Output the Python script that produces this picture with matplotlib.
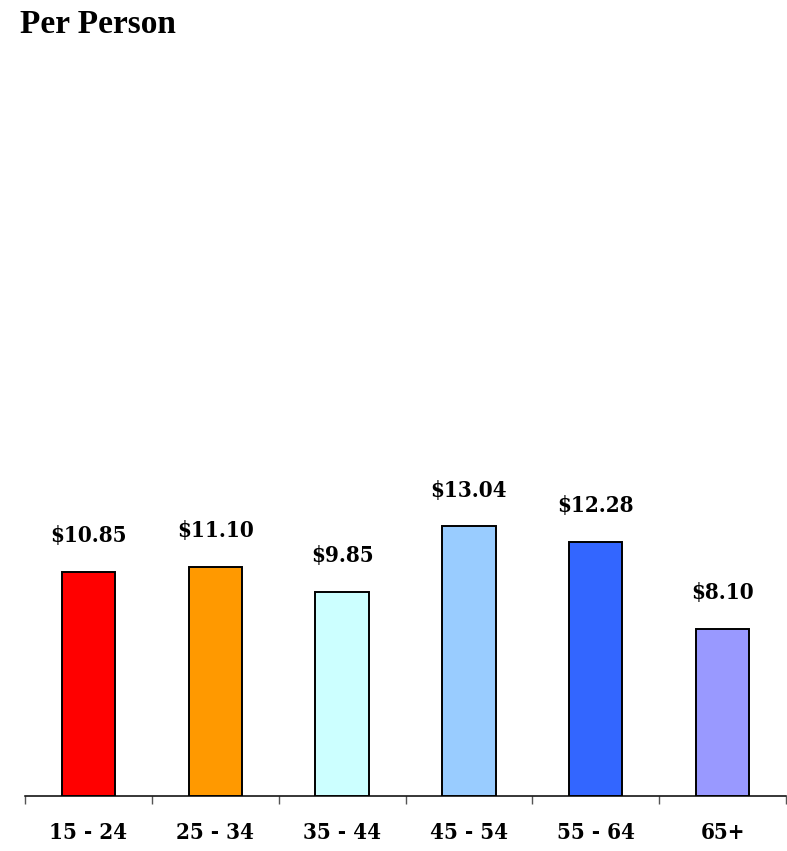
import matplotlib
matplotlib.use("Agg")
import matplotlib.pyplot as plt
from matplotlib import font_manager

categories = ["15 - 24", "25 - 34", "35 - 44", "45 - 54", "55 - 64", "65+"]
values = [10.85, 11.10, 9.85, 13.04, 12.28, 8.10]
colors = ["#FF0000", "#FF9900", "#CCFFFF", "#99CCFF", "#3366FF", "#9999FF"]

W, H, DPI = 787, 851, 100

# prefer a condensed bold serif for the numeric labels
cond = [f for f in font_manager.fontManager.ttflist
        if f.name.startswith("DejaVu Serif") and "ondensed" in (f.fname + f.name)]
if cond:
    label_font = dict(family="DejaVu Serif", stretch="condensed", weight="bold", size=16)
else:
    label_font = dict(family="Liberation Serif", weight="bold", size=16)

fig = plt.figure(figsize=(W / DPI, H / DPI), dpi=DPI)
ax = fig.add_axes([25 / W, (H - 796) / H, (786 - 25) / W, (796 - 60) / H])

x = list(range(len(categories)))
ax.bar(x, values, width=0.42, color=colors, edgecolor="black", linewidth=1.4, zorder=3)

for xi, v in zip(x, values):
    ax.annotate(f"${v:.2f}", (xi, v), xytext=(0, 21.5), textcoords="offset points",
                ha="center", va="baseline", color="black", **label_font)

ax.set_xlim(-0.5, len(categories) - 0.5)
ax.set_ylim(0, 35.6)

for s in ["top", "left", "right"]:
    ax.spines[s].set_visible(False)
ax.spines["bottom"].set_linewidth(1.1)
ax.spines["bottom"].set_color("black")
ax.set_yticks([])

# boundary ticks between groups, labels centred under each bar
ax.set_xticks([i - 0.5 for i in range(len(categories) + 1)])
ax.set_xticklabels([])
ax.tick_params(axis="x", which="major", length=6, width=1.0, color="#555555", direction="out")
ax.set_xticks(x, minor=True)
ax.set_xticklabels(categories, minor=True, **label_font)
ax.tick_params(axis="x", which="minor", length=0, pad=19)

fig.text(20 / W, 1 - 33 / H, "Per Person", family="Liberation Serif", weight="bold",
         size=24, va="baseline", ha="left")

fig.savefig("out.png", dpi=DPI)
